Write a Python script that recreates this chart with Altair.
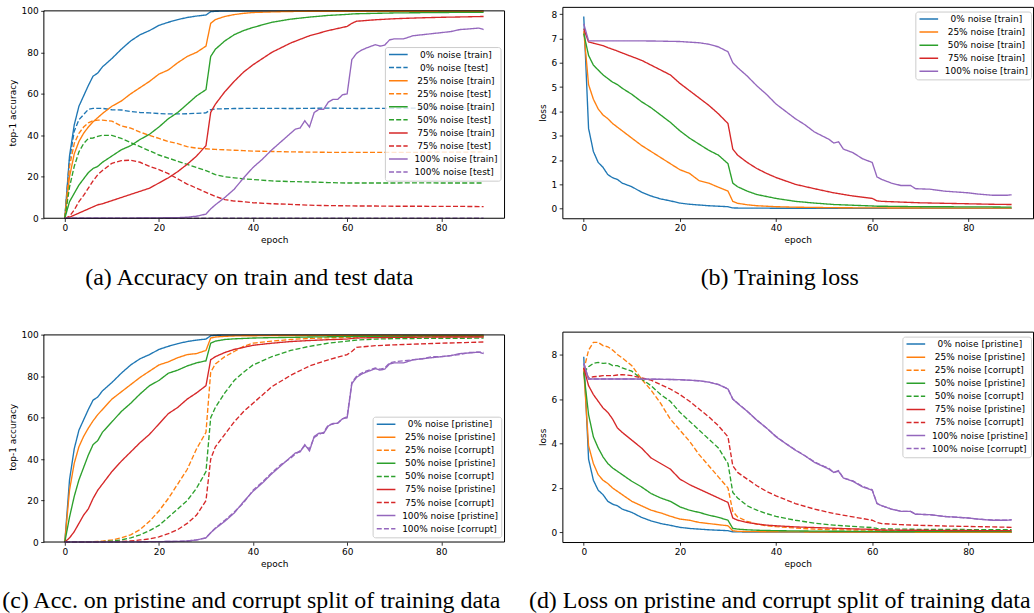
import altair as alt
import pandas as pd

# ---------------- epochs ----------------
EPOCHS = [0, 1, 2, 3, 4, 5, 6, 7, 8,
          10, 12, 14, 16, 18, 20, 22, 24, 26, 28, 30,
          31, 32, 34, 36, 38, 40,
          44, 48, 52, 56, 60,
          61, 62, 66, 70, 75, 80, 85, 89]
EPOCHS_P = [0, 5, 10, 15, 20, 24, 26, 28, 29, 30,
            31, 32, 34, 36, 38, 40, 42, 44, 46, 48,
            49, 50, 51, 52, 53, 54, 55, 56, 57, 58,
            59, 60, 61, 62, 63, 64, 66, 67, 68, 69,
            70, 72, 74, 76, 78, 80, 82, 84, 86, 88,
            89]
EPOCHS_PL = [0, 1, 5, 10, 15, 20, 24, 26, 28, 30,
             31, 32, 34, 36, 38, 40, 42, 44, 46, 48,
             50, 51, 52, 53, 54, 56, 58, 60, 61, 62,
             64, 66, 68, 69, 72, 75, 80, 82, 85, 88,
             89]
EPOCHS_FLAT = [0, 30, 60, 89]

# ---------------- (a) accuracy train / test ----------------
A_0_TRAIN = [0, 30, 45, 54, 59, 64, 68.5, 70, 73,
             77, 81.5, 85.5, 88.5, 90.5, 93, 94.5, 95.8, 96.8, 97.5, 98,
             99.6, 99.8, 99.9, 99.9, 99.9, 99.9,
             99.9, 99.9, 99.9, 99.9, 99.9,
             99.9, 99.9, 99.9, 99.9, 99.9, 99.9, 99.9, 99.9]
A_0_TEST = [0, 28, 42, 47.5, 50, 52.5, 53, 53, 53,
            52.3, 52.2, 51.5, 51, 50.8, 50.5, 50.3, 50.3, 50.4, 50.6, 50.8,
            52.4, 52.7, 52.8, 52.9, 53, 53,
            53, 52.9, 53, 53.1, 53,
            53, 52.9, 53, 53, 53.1, 53, 53, 53]
A_25_TRAIN = [0, 20, 31, 37, 41, 44, 46.5, 48.5, 50.5,
              54, 56.5, 60, 63, 66, 69.5, 71.5, 75, 78, 80, 83,
              94, 95.8, 97.3, 98.2, 98.8, 99.2,
              99.5, 99.7, 99.8, 99.8, 99.8,
              99.8, 99.8, 99.8, 99.8, 99.8, 99.8, 99.8, 99.8]
A_25_TEST = [0, 25, 36, 41, 44, 46, 47, 47.3, 47.3,
             46.8, 44.5, 43.5, 41.5, 40, 38.5, 37, 36, 34.5, 33.8, 33.5,
             33.3, 33.2, 33, 32.8, 32.6, 32.4,
             32.2, 32, 31.9, 31.8, 31.8,
             31.8, 31.8, 31.8, 31.8, 31.8, 31.9, 31.9, 32]
A_50_TRAIN = [0, 8, 12, 16, 19, 22, 24, 25, 27,
              30, 33, 35, 38, 40.5, 44, 48, 51, 55, 59, 62,
              78, 81.5, 85.5, 88.5, 90.5, 92,
              94.5, 96, 97, 97.8, 98.3,
              98.5, 98.6, 98.8, 99, 99.1, 99.2, 99.3, 99.3]
A_50_TEST = [0, 15, 25, 32, 36, 38.5, 38.7, 39.5, 40,
             40, 38.5, 36.5, 34.5, 32.5, 30.5, 29, 27.5, 26, 24.5, 23,
             22, 21, 20, 19.5, 19, 18.7,
             18, 17.7, 17.5, 17.2, 17,
             17, 17, 17, 17, 17.1, 17, 17, 17]
A_75_TRAIN = [0, 0.5, 1.5, 2.5, 3.5, 4.5, 5.5, 6.5, 7,
              8.5, 10, 11.5, 13, 14.5, 17, 19.5, 22.5, 26, 30, 35,
              51, 55, 61, 66, 70.5, 74,
              80, 84.5, 88, 90.5, 92.5,
              94, 95, 95.7, 96.2, 96.6, 96.9, 97.1, 97.3]
A_75_TEST = [0, 1, 4, 8, 11, 14.5, 18, 21, 23,
             26.5, 27.8, 28, 27, 25, 23.5, 21.5, 19, 16.5, 14.5, 12.5,
             11.5, 10.5, 9, 8.3, 8, 7.5,
             7, 6.7, 6.3, 6.1, 6,
             6, 5.9, 5.9, 5.8, 5.8, 5.7, 5.7, 5.6]
A_100_TRAIN = [0, 0, 0, 0.1, 0.2, 0.3, 0.5, 1, 1.5, 2,
               4.5, 6.5, 10, 14, 19.5, 24.5, 28.5, 33, 37, 41,
               43, 43.5, 47, 44, 51, 52.5, 52.5, 56, 57.3, 57.3,
               59.5, 60, 76.5, 79.5, 81, 82, 83.7, 83, 83.5, 86,
               86.5, 86.5, 88, 88.5, 89, 89.5, 90, 91, 91.3, 91.7,
               91]
A_100_TEST = [0.1, 0.1, 0.1, 0.1]

# ---------------- (b) training loss ----------------
B_0 = [7.9, 3.3, 2.35, 1.9, 1.7, 1.4, 1.27, 1.2, 1.05,
       0.9, 0.68, 0.52, 0.4, 0.32, 0.23, 0.18, 0.15, 0.12, 0.1, 0.08,
       0.03, 0.025, 0.02, 0.02, 0.02, 0.015,
       0.015, 0.01, 0.01, 0.01, 0.01,
       0.01, 0.01, 0.01, 0.01, 0.01, 0.01, 0.01, 0.01]
B_25 = [7.3, 5.1, 4.5, 4.1, 3.85, 3.7, 3.5, 3.35, 3.2,
        2.9, 2.6, 2.35, 2.1, 1.85, 1.6, 1.45, 1.15, 1.05, 0.88, 0.72,
        0.3, 0.22, 0.16, 0.12, 0.1, 0.08,
        0.06, 0.05, 0.04, 0.035, 0.03,
        0.03, 0.03, 0.025, 0.025, 0.02, 0.02, 0.02, 0.02]
B_50 = [7.2, 6.3, 5.9, 5.7, 5.5, 5.35, 5.2, 5.1, 4.95,
        4.7, 4.4, 4.15, 3.85, 3.55, 3.2, 2.9, 2.65, 2.4, 2.2, 1.85,
        1.05, 0.9, 0.72, 0.58, 0.5, 0.42,
        0.3, 0.23, 0.17, 0.14, 0.11,
        0.1, 0.1, 0.09, 0.08, 0.08, 0.07, 0.07, 0.06]
B_75 = [7.4, 6.85, 6.8, 6.75, 6.7, 6.62, 6.55, 6.48, 6.4,
        6.25, 6.1, 5.9, 5.7, 5.5, 5.15, 4.85, 4.55, 4.25, 3.9, 3.5,
        2.45, 2.2, 1.9, 1.65, 1.45, 1.28,
        1.0, 0.82, 0.65, 0.52, 0.42,
        0.32, 0.3, 0.27, 0.24, 0.22, 0.2, 0.18, 0.17]
B_100 = [7.6, 6.9, 6.9, 6.9, 6.89, 6.87, 6.82, 6.76, 6.65, 6.45,
         6.0, 5.8, 5.45, 5.05, 4.7, 4.3, 4.0, 3.7, 3.45, 3.15,
         2.95, 2.85, 2.7, 2.75, 2.45, 2.3, 2.05, 1.9, 1.3, 1.2,
         1.05, 0.95, 0.95, 0.82, 0.8, 0.72, 0.65, 0.6, 0.55, 0.55,
         0.57]

# ---------------- (c) accuracy pristine / corrupt ----------------
C_0_PRI = A_0_TRAIN
C_25_PRI = [0, 25, 38, 46, 51, 55, 58.5, 61.5, 64,
            69, 72.5, 76, 79.5, 82.5, 85.5, 87, 89, 90.5, 91, 92.5,
            98.5, 99, 99.3, 99.5, 99.6, 99.6,
            99.7, 99.7, 99.7, 99.8, 99.8,
            99.8, 99.8, 99.8, 99.8, 99.8, 99.8, 99.8, 99.8]
C_25_COR = [0, 0, 0, 0, 0.1, 0.1, 0.2, 0.3, 0.4,
            1, 2, 3.5, 6, 10, 15, 21, 28, 35, 45, 53,
            82, 86, 89.5, 92, 94.5, 96,
            97, 97.8, 98.3, 98.6, 98.8,
            98.9, 99, 99, 99.1, 99.2, 99.2, 99.3, 99.3]
C_50_PRI = [0, 12, 22, 30, 36, 42, 47, 49, 53,
            58, 63, 67, 71.5, 75.5, 78, 81.5, 83, 85, 86.5, 87.5,
            96, 97, 97.8, 98.1, 98.3, 98.5,
            98.7, 98.8, 99, 99.1, 99.2,
            99.2, 99.3, 99.3, 99.3, 99.4, 99.4, 99.4, 99.4]
C_50_COR = [0, 0, 0, 0, 0, 0.1, 0.1, 0.2, 0.2,
            0.5, 1, 2, 3.5, 5.5, 8, 12, 16, 20, 26, 34,
            60, 65, 72, 78, 82, 85.5,
            89.5, 92.5, 94.5, 96, 97,
            97.3, 97.5, 98, 98.2, 98.3, 98.4, 98.4, 98.5]
C_75_PRI = [0, 2, 5, 9, 13, 16, 21, 25, 28,
            34, 39, 43.5, 48, 52, 57, 62, 65, 69, 72, 75.5,
            88, 89.5, 91.5, 93, 94, 95,
            96, 96.8, 97.3, 97.7, 98,
            98.3, 98.5, 98.7, 98.8, 98.9, 99, 99, 99]
C_75_COR = [0, 0, 0, 0, 0, 0, 0, 0, 0.1,
            0.1, 0.3, 0.5, 1, 1.5, 2.5, 4, 6, 9, 13, 20,
            40, 46, 52, 58, 63, 67,
            75, 80.5, 85, 88, 90.5,
            92, 94, 94.8, 95.2, 95.6, 96, 96.3, 96.6]
C_100_PRI = A_100_TRAIN
C_100_COR = [0, 0, 0, 0.1, 0.2, 0.3, 0.5, 1, 1.5, 2,
             4.5, 6.8, 10.5, 14.5, 19, 25, 29, 33.5, 37.5, 40.5,
             42.5, 44, 46.5, 45, 50.5, 52, 53, 56.5, 57, 57.5,
             59.5, 60.5, 77, 80, 81.5, 82.5, 84, 83.5, 84, 86.5,
             87, 87.5, 88, 88.5, 89.5, 89.5, 90, 90.5, 91.5, 91.7,
             91.5]

# ---------------- (d) loss pristine / corrupt ----------------
D_0_PRI = B_0
D_25_PRI = [7.3, 3.9, 3.1, 2.6, 2.35, 2.2, 2.0, 1.85, 1.7,
            1.4, 1.2, 1.0, 0.88, 0.73, 0.6, 0.55, 0.45, 0.4, 0.35, 0.3,
            0.08, 0.05, 0.04, 0.035, 0.03, 0.03,
            0.025, 0.02, 0.02, 0.02, 0.015,
            0.015, 0.015, 0.015, 0.01, 0.01, 0.01, 0.01, 0.01]
D_25_COR = [7.3, 8.2, 8.55, 8.55, 8.4, 8.35, 8.2, 8.0, 7.85,
            7.5, 6.9, 6.4, 5.8, 5.1, 4.6, 4.1, 3.5, 3.0, 2.5, 2.0,
            0.95, 0.7, 0.5, 0.38, 0.3, 0.26,
            0.2, 0.15, 0.12, 0.11, 0.1,
            0.09, 0.09, 0.08, 0.08, 0.08, 0.07, 0.07, 0.07]
D_50_PRI = [7.2, 5.3, 4.3, 3.8, 3.4, 3.1, 2.9, 2.75, 2.6,
            2.3, 2.05, 1.75, 1.55, 1.4, 1.15, 1.0, 0.9, 0.78, 0.68, 0.55,
            0.18, 0.15, 0.12, 0.1, 0.09, 0.08,
            0.07, 0.06, 0.055, 0.05, 0.05,
            0.05, 0.045, 0.045, 0.04, 0.04, 0.04, 0.04, 0.04]
D_50_COR = [7.2, 7.45, 7.6, 7.65, 7.6, 7.62, 7.5, 7.5, 7.4,
            7.25, 6.9, 6.6, 6.2, 5.9, 5.4, 5.0, 4.6, 4.2, 3.8, 3.1,
            1.8, 1.55, 1.2, 1.0, 0.85, 0.72,
            0.55, 0.42, 0.33, 0.27, 0.22,
            0.18, 0.16, 0.15, 0.14, 0.14, 0.13, 0.13, 0.12]
D_75_PRI = [7.4, 6.6, 6.2, 5.9, 5.6, 5.4, 5.1, 4.7, 4.5,
            4.15, 3.8, 3.35, 3.1, 2.85, 2.4, 2.15, 1.95, 1.75, 1.55, 1.35,
            0.65, 0.55, 0.45, 0.38, 0.33, 0.3,
            0.25, 0.22, 0.19, 0.16, 0.14,
            0.12, 0.11, 0.1, 0.1, 0.09, 0.09, 0.08, 0.08]
D_75_COR = [7.4, 6.95, 7.0, 7.02, 7.05, 7.05, 7.05, 7.08, 7.1,
            7.05, 6.95, 6.85, 6.65, 6.45, 6.2, 5.9, 5.55, 5.2, 4.8, 4.3,
            3.0, 2.7, 2.4, 2.1, 1.85, 1.65,
            1.3, 1.05, 0.85, 0.7, 0.55,
            0.45, 0.4, 0.35, 0.32, 0.29, 0.27, 0.25, 0.23]
D_100_PRI = B_100
D_100_COR = [7.6, 6.9, 6.9, 6.9, 6.89, 6.87, 6.82, 6.76, 6.66, 6.45,
             6.0, 5.82, 5.45, 5.05, 4.7, 4.32, 4.0, 3.72, 3.45, 3.17,
             2.97, 2.88, 2.7, 2.78, 2.45, 2.32, 2.07, 1.92, 1.3, 1.2,
             1.05, 0.95, 0.95, 0.82, 0.8, 0.72, 0.65, 0.6, 0.56, 0.55,
             0.57]

# ---------------- styling ----------------
BLUE, ORANGE, GREEN, RED, PURPLE = "#1f77b4", "#ff7f0e", "#2ca02c", "#d62728", "#9467bd"
SOLID = [1, 0]
DASHED = [5, 2.2]
SP = "\u00a0"      # no-break space used to indent the shorter percentages
ZW = "\u200b"      # zero-width lead so the indent is not trimmed away

ACC_TICKS = [0, 20, 40, 60, 80, 100]
X_TICKS = [0, 20, 40, 60, 80]
X_DOMAIN = [-4.45, 93.45]


def lbl(p, kind):
    pad = SP * (3 - len(p))
    lead = ZW if pad else ""
    return f"{lead}{pad}{p}% noise [{kind}]"


SERIES_A = [
    (lbl("0", "train"), EPOCHS, A_0_TRAIN, BLUE, SOLID),
    (lbl("0", "test"), EPOCHS, A_0_TEST, BLUE, DASHED),
    (lbl("25", "train"), EPOCHS, A_25_TRAIN, ORANGE, SOLID),
    (lbl("25", "test"), EPOCHS, A_25_TEST, ORANGE, DASHED),
    (lbl("50", "train"), EPOCHS, A_50_TRAIN, GREEN, SOLID),
    (lbl("50", "test"), EPOCHS, A_50_TEST, GREEN, DASHED),
    (lbl("75", "train"), EPOCHS, A_75_TRAIN, RED, SOLID),
    (lbl("75", "test"), EPOCHS, A_75_TEST, RED, DASHED),
    (lbl("100", "train"), EPOCHS_P, A_100_TRAIN, PURPLE, SOLID),
    (lbl("100", "test"), EPOCHS_FLAT, A_100_TEST, PURPLE, DASHED),
]
SERIES_B = [
    (lbl("0", "train"), EPOCHS, B_0, BLUE, SOLID),
    (lbl("25", "train"), EPOCHS, B_25, ORANGE, SOLID),
    (lbl("50", "train"), EPOCHS, B_50, GREEN, SOLID),
    (lbl("75", "train"), EPOCHS, B_75, RED, SOLID),
    (lbl("100", "train"), EPOCHS_PL, B_100, PURPLE, SOLID),
]
SERIES_C = [
    (lbl("0", "pristine"), EPOCHS, C_0_PRI, BLUE, SOLID),
    (lbl("25", "pristine"), EPOCHS, C_25_PRI, ORANGE, SOLID),
    (lbl("25", "corrupt"), EPOCHS, C_25_COR, ORANGE, DASHED),
    (lbl("50", "pristine"), EPOCHS, C_50_PRI, GREEN, SOLID),
    (lbl("50", "corrupt"), EPOCHS, C_50_COR, GREEN, DASHED),
    (lbl("75", "pristine"), EPOCHS, C_75_PRI, RED, SOLID),
    (lbl("75", "corrupt"), EPOCHS, C_75_COR, RED, DASHED),
    (lbl("100", "pristine"), EPOCHS_P, C_100_PRI, PURPLE, SOLID),
    (lbl("100", "corrupt"), EPOCHS_P, C_100_COR, PURPLE, DASHED),
]
SERIES_D = [
    (lbl("0", "pristine"), EPOCHS, D_0_PRI, BLUE, SOLID),
    (lbl("25", "pristine"), EPOCHS, D_25_PRI, ORANGE, SOLID),
    (lbl("25", "corrupt"), EPOCHS, D_25_COR, ORANGE, DASHED),
    (lbl("50", "pristine"), EPOCHS, D_50_PRI, GREEN, SOLID),
    (lbl("50", "corrupt"), EPOCHS, D_50_COR, GREEN, DASHED),
    (lbl("75", "pristine"), EPOCHS, D_75_PRI, RED, SOLID),
    (lbl("75", "corrupt"), EPOCHS, D_75_COR, RED, DASHED),
    (lbl("100", "pristine"), EPOCHS_PL, D_100_PRI, PURPLE, SOLID),
    (lbl("100", "corrupt"), EPOCHS_PL, D_100_COR, PURPLE, DASHED),
]


def panel(series, ydom, yticks, ytitle, caption, w, h, lx, ly, cx, cy, frame_top=None):
    rows = []
    for label, ep, vals, _c, _d in series:
        assert len(ep) == len(vals), label
        for e, v in zip(ep, vals):
            rows.append({"epoch": e, "value": v, "series": label})
    df = pd.DataFrame(rows)
    labels = [s[0] for s in series]
    leg = alt.Legend(title=None, orient="none", legendX=lx, legendY=ly)
    xenc = alt.X("epoch:Q", scale=alt.Scale(domain=X_DOMAIN, nice=False, zero=False),
                 axis=alt.Axis(values=X_TICKS, title="epoch", titlePadding=3))
    yenc = alt.Y("value:Q", scale=alt.Scale(domain=ydom, nice=False, zero=False),
                 axis=alt.Axis(values=yticks, title=ytitle, titlePadding=3.5))
    lines = alt.Chart(df).mark_line(strokeWidth=1.35).encode(
        x=xenc, y=yenc,
        color=alt.Color("series:N", sort=labels,
                        scale=alt.Scale(domain=labels, range=[s[3] for s in series]),
                        legend=leg),
        strokeDash=alt.StrokeDash("series:N", sort=labels,
                                  scale=alt.Scale(domain=labels, range=[s[4] for s in series]),
                                  legend=leg),
    )
    cap = alt.Chart(pd.DataFrame({"caption": [caption]})).mark_text(
        font="Liberation Serif", fontSize=24, align="center", baseline="alphabetic", color="black"
    ).encode(text="caption:N", x=alt.value(cx), y=alt.value(cy))
    layers = [lines]
    props = dict(width=w, height=h)
    if frame_top is not None:
        # axes frame (spines) spanning the full x range and y from 0 to frame_top
        frame = alt.Chart(pd.DataFrame({"x0": [X_DOMAIN[0]], "x1": [X_DOMAIN[1]],
                                        "y0": [0], "y1": [frame_top]})).mark_rect(
            fill="transparent", stroke="black", strokeWidth=1
        ).encode(x="x0:Q", x2="x1:Q", y="y0:Q", y2="y1:Q")
        layers.append(frame)
        props["view"] = alt.ViewBackground(stroke="transparent")
    layers.append(cap)
    return alt.layer(*layers).properties(**props)


# (a) and (c): plot frame is 4 px lower than the top of the cell, so the y scale
# extends a little above 100 and the frame is drawn at 0..100.
pa = panel(SERIES_A, [0, 100 * 212 / 208], ACC_TICKS, "top-1 accuracy",
           "(a) Accuracy on train and test data", 462, 212, 342, 40.3, 206, 279, frame_top=100)
pb = panel(SERIES_B, [-0.395, 8.295], list(range(9)), "loss",
           "(b) Training loss", 472, 212, 354, 4.7, 218, 279)
pc = panel(SERIES_C, [0, 100 * 211 / 207.7], ACC_TICKS, "top-1 accuracy",
           "(c) Acc. on pristine and corrupt split of training data", 462, 211, 329.7, 85.3, 208, 277.3,
           frame_top=100)
pd_ = panel(SERIES_D, [-0.43, 9.03], [0, 2, 4, 6, 8], "loss",
            "(d) Loss on pristine and corrupt split of training data", 472, 211, 341, 5, 218, 277.3)

chart = alt.concat(pa, pb, pc, pd_, columns=2, spacing={"row": 113.7, "column": 58},
                   bounds="flush", align="each").resolve_scale(
    color="independent", strokeDash="independent", x="independent", y="independent"
).resolve_legend(
    color="independent", strokeDash="independent"
).properties(
    padding={"left": 0, "top": 5, "right": 0, "bottom": 0},
    background="white",
).configure_view(
    stroke="black", strokeWidth=1
).configure_axis(
    grid=False, domain=False,
    labelFont="DejaVu Sans", labelFontSize=9, labelColor="black", labelPadding=2.5,
    tickColor="black", tickSize=3.2, tickWidth=0.8,
    titleFont="DejaVu Sans", titleFontSize=9, titleFontWeight="normal", titleColor="black",
).configure_legend(
    labelFont="DejaVu Sans", labelFontSize=9, labelColor="black", labelOffset=5.6,
    symbolType="stroke", symbolSize=350, symbolStrokeWidth=1.5, clipHeight=9,
    rowPadding=3.1, padding=3, strokeColor="#cccccc", fillColor="rgba(255,255,255,0.8)",
    cornerRadius=2.5, labelLimit=300,
)

chart.save("out.html", embed_options={"renderer": "svg", "actions": False})
